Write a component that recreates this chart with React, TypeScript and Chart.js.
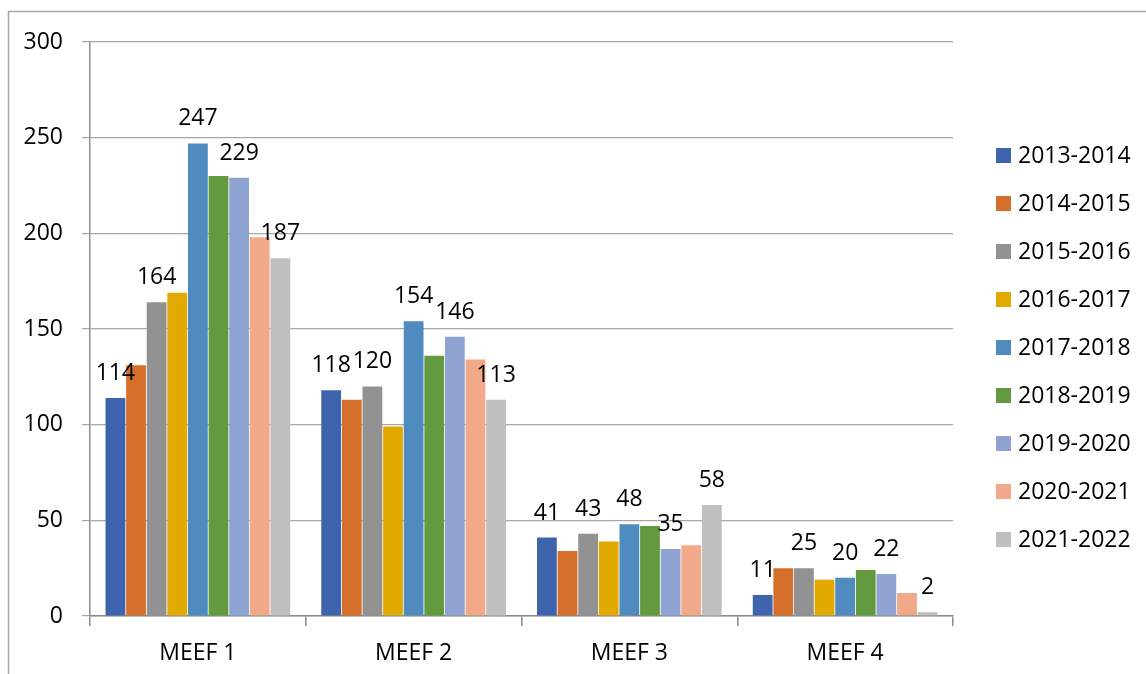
import React, { useEffect, useRef } from "react";
import { Chart, registerables } from "chart.js";

Chart.register(...registerables);

const categories = ["MEEF 1", "MEEF 2", "MEEF 3", "MEEF 4"];
const seriesNames = [
  "2013-2014",
  "2014-2015",
  "2015-2016",
  "2016-2017",
  "2017-2018",
  "2018-2019",
  "2019-2020",
  "2020-2021",
  "2021-2022",
];
const v2013 = [114, 118, 41, 11];
const v2014 = [131, 113, 34, 25];
const v2015 = [164, 120, 43, 25];
const v2016 = [169, 99, 39, 19];
const v2017 = [247, 154, 48, 20];
const v2018 = [230, 136, 47, 24];
const v2019 = [229, 146, 35, 22];
const v2020 = [198, 134, 37, 12];
const v2021 = [187, 113, 58, 2];
const seriesValues = [v2013, v2014, v2015, v2016, v2017, v2018, v2019, v2020, v2021];
const colors = [
  "#3F64AE",
  "#D46F2C",
  "#929292",
  "#E2A900",
  "#4F8BBF",
  "#639A3F",
  "#8FA3D3",
  "#F1A98A",
  "#BFBFBF",
];
const labeledSeries = [0, 2, 4, 6, 8];
const yTicks = [0, 50, 100, 150, 200, 250, 300];

const FONT = "'Open Sans', sans-serif";
const FS = 23;

const extrasPlugin = {
  id: "extras",
  afterDraw(chart: any) {
    const ctx = chart.ctx as CanvasRenderingContext2D;
    ctx.save();
    // outer frame (top + left)
    ctx.strokeStyle = "#a6a6a6";
    ctx.lineWidth = 1.5;
    ctx.beginPath();
    ctx.moveTo(8.5, 674);
    ctx.lineTo(8.5, 11.5);
    ctx.lineTo(1146, 11.5);
    ctx.stroke();

    // data labels
    ctx.fillStyle = "#000";
    ctx.font = `${FS}px ${FONT}`;
    ctx.textAlign = "center";
    ctx.textBaseline = "alphabetic";
    labeledSeries.forEach((di) => {
      const meta = chart.getDatasetMeta(di);
      meta.data.forEach((bar: any, i: number) => {
        ctx.fillText(String(seriesValues[di][i]), bar.x, bar.y - 18);
      });
    });

    // legend
    ctx.textAlign = "left";
    ctx.textBaseline = "middle";
    seriesNames.forEach((name, i) => {
      const cy = 155.5 + i * 48;
      ctx.fillStyle = colors[i];
      ctx.fillRect(996, cy - 7.5, 15, 15);
      ctx.fillStyle = "#000";
      ctx.fillText(name, 1018, cy + 1);
    });
    ctx.restore();
  },
};

export default function App() {
  const ref = useRef<HTMLCanvasElement | null>(null);
  useEffect(() => {
    document.body.style.margin = "0";
    if (!ref.current) return;
    const chart = new Chart(ref.current, {
      type: "bar",
      data: {
        labels: categories,
        datasets: seriesNames.map((n, i) => ({
          label: n,
          data: seriesValues[i],
          backgroundColor: colors[i],
          borderWidth: 0,
          barPercentage: 0.96,
          categoryPercentage: 0.86,
        })),
      },
      options: {
        responsive: false,
        animation: false,
        layout: { padding: { left: 8, right: 193, top: 42, bottom: 0 } },
        plugins: { legend: { display: false }, tooltip: { enabled: false } },
        scales: {
          x: {
            grid: {
              offset: true,
              drawOnChartArea: false,
              drawTicks: true,
              tickLength: 10,
              color: "#8c8c8c",
              lineWidth: 1.5,
            },
            border: { display: true, color: "#8c8c8c", width: 1.5 },
            ticks: {
              color: "#000",
              font: { family: FONT, size: FS },
              padding: 14,
            },
            afterFit: (s: any) => {
              s.height = 58;
            },
          },
          y: {
            min: 0,
            max: 300,
            afterBuildTicks: (s: any) => {
              s.ticks = yTicks.map((v) => ({ value: v }));
            },
            grid: {
              color: "#a6a6a6",
              lineWidth: 1.2,
              drawTicks: true,
              tickLength: 8,
            },
            border: { display: true, color: "#8c8c8c", width: 1.5 },
            ticks: {
              color: "#000",
              font: { family: FONT, size: FS },
              padding: 19,
            },
            afterFit: (s: any) => {
              s.width = 82;
            },
          },
        },
      },
      plugins: [extrasPlugin],
    });
    return () => chart.destroy();
  }, []);
  return (
    <canvas
      ref={ref}
      width={1146}
      height={674}
      style={{ display: "block", width: 1146, height: 674 }}
    />
  );
}
